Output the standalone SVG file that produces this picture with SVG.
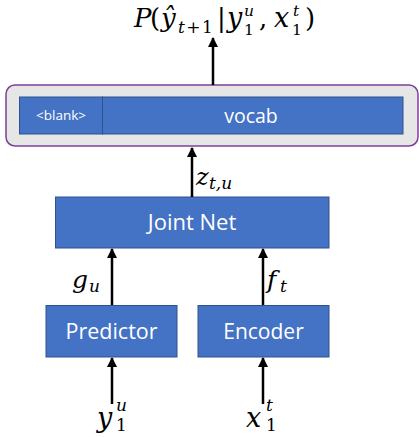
<svg xmlns="http://www.w3.org/2000/svg" width="419" height="437" viewBox="0 0 419 437">
<defs>
<marker id="ah" viewBox="0 0 10 10" refX="9" refY="5" markerWidth="10" markerHeight="10" markerUnits="userSpaceOnUse" orient="auto">
<path d="M0,0 L10,5 L0,10 z" fill="#000"/>
</marker>
<style>
.box{fill:#4472C4;stroke:#2F528F;stroke-width:1}
.lbl{font-family:"Open Sans","Liberation Sans",sans-serif;fill:#fff;text-anchor:middle}
.m{font-family:"DejaVu Serif","Liberation Serif",serif;font-style:italic;fill:#000}
.n{font-style:normal}
.s{font-size:17px}
.t{font-size:15.5px}
.edge{stroke:#000;stroke-width:2.5;fill:none;marker-end:url(#ah)}
</style>
</defs>
<rect width="419" height="437" fill="#fff"/>
<g id="output">
<rect x="6" y="85" width="412" height="61" rx="9" fill="#E7E6E6" stroke="#7E3F98" stroke-width="1.5"/>
</g>
<g id="blank">
<rect class="box" x="19.5" y="97" width="83" height="37"/>
<text class="lbl" x="61" y="120" font-size="13.5">&lt;blank&gt;</text>
</g>
<g id="vocab">
<rect class="box" x="102.5" y="97" width="300.5" height="37"/>
<text class="lbl" x="251" y="123" font-size="19.5">vocab</text>
</g>
<g id="joint">
<rect class="box" x="55.5" y="197" width="273.5" height="51"/>
<text class="lbl" x="192" y="230" font-size="22">Joint Net</text>
</g>
<g id="predictor">
<rect class="box" x="46" y="305.5" width="131" height="51.5"/>
<text class="lbl" x="111.5" y="339" font-size="21.5">Predictor</text>
</g>
<g id="encoder">
<rect class="box" x="198" y="305.5" width="131" height="51.5"/>
<text class="lbl" x="263.5" y="339" font-size="21">Encoder</text>
</g>
<g id="connectors">
<line class="edge" x1="213" y1="85" x2="213" y2="38"/>
<line class="edge" x1="192" y1="197" x2="192" y2="148"/>
<line class="edge" x1="112" y1="305" x2="112" y2="249"/>
<line class="edge" x1="263" y1="305" x2="263" y2="249"/>
<line class="edge" x1="112" y1="404" x2="112" y2="358"/>
<line class="edge" x1="263" y1="404" x2="263" y2="358"/>
</g>
<g id="labels">
<text class="m" font-size="26"><tspan x="134" y="27">P</tspan><tspan class="n" x="150" y="27">(</tspan><tspan x="161" y="27">ŷ</tspan><tspan class="s" x="178" y="33" letter-spacing="1.5">t<tspan class="n">+1</tspan></tspan><tspan class="n" x="217" y="27">|</tspan><tspan x="227" y="27" font-size="27">y</tspan><tspan class="t" x="244" y="16">u</tspan><tspan class="t n" x="244" y="34.5">1</tspan><tspan class="n" x="259" y="27">,</tspan><tspan x="274" y="27" font-size="27">x</tspan><tspan class="t" x="293" y="16">t</tspan><tspan class="t n" x="292" y="34.5">1</tspan><tspan class="n" x="305" y="27">)</tspan></text>
<text class="m" font-size="24"><tspan x="196" y="185">z</tspan><tspan class="s" x="209" y="189">t,u</tspan></text>
<text class="m" font-size="25"><tspan x="72" y="288">g</tspan><tspan class="s" x="89" y="292">u</tspan></text>
<text class="m" font-size="25"><tspan x="267" y="288">f</tspan><tspan class="s" x="280" y="292">t</tspan></text>
<text class="m" font-size="27"><tspan x="97" y="427">y</tspan><tspan class="s" x="116" y="411">u</tspan><tspan class="s n" x="116" y="431">1</tspan></text>
<text class="m" font-size="27"><tspan x="246" y="427">x</tspan><tspan class="s" x="266" y="411">t</tspan><tspan class="s n" x="266" y="431">1</tspan></text>
</g>
</svg>
